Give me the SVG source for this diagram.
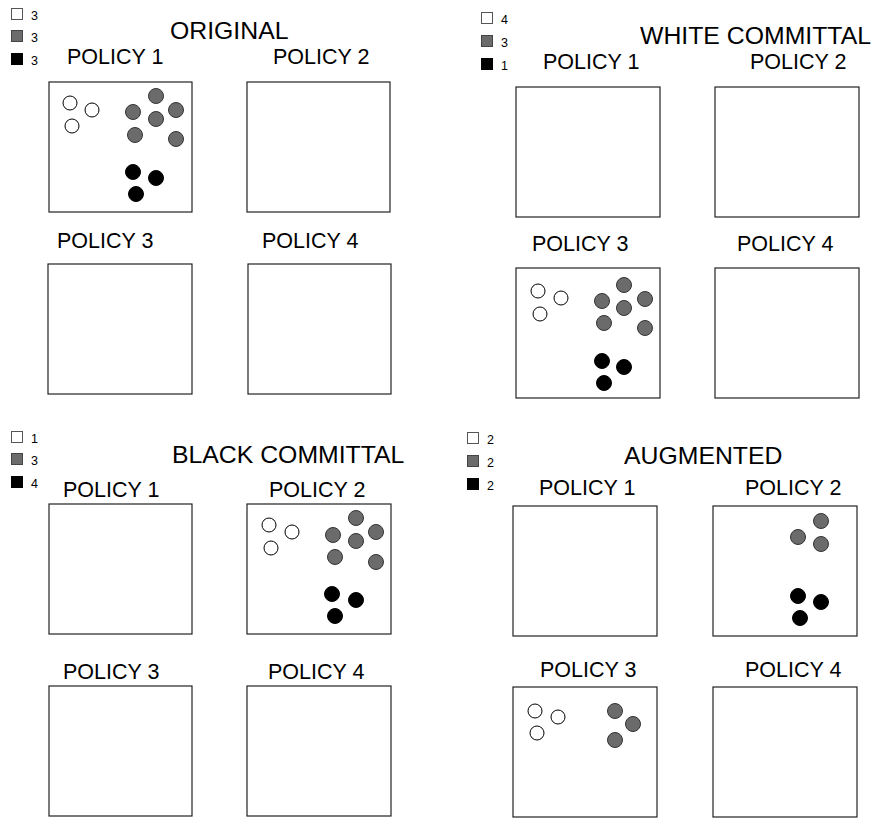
<svg xmlns="http://www.w3.org/2000/svg" width="880" height="818" viewBox="0 0 880 818">
<style>
text{font-family:"Liberation Sans",Arial,Helvetica,sans-serif;fill:#000}
.title{font-size:24.8px}
.lbl{font-size:21.5px}
.leg{font-size:12.5px}
.box{fill:#fff;stroke:#222;stroke-width:1.2}
.w{fill:#fff;stroke:#000;stroke-width:1}
.g{fill:#6b6b6b;stroke:#333;stroke-width:1}
.b{fill:#000;stroke:#000;stroke-width:1}
.sw{fill:#fff;stroke:#555;stroke-width:1}
.sg{fill:#6b6b6b;stroke:#444;stroke-width:1}
.sb{fill:#000;stroke:#000;stroke-width:1}
</style>
<rect width="880" height="818" fill="#fff"/>

<!-- ORIGINAL -->
<g id="original">
  <g id="original-legend">
    <rect class="sw" x="11.5" y="8.5" width="11" height="11"/><text class="leg" x="31" y="20">3</text>
    <rect class="sg" x="11.5" y="30.5" width="11" height="11"/><text class="leg" x="31" y="42">3</text>
    <rect class="sb" x="11.5" y="53.5" width="11" height="11"/><text class="leg" x="31" y="65">3</text>
  </g>
  <text class="title" x="170" y="39">ORIGINAL</text>
  <g id="original-p1">
    <text class="lbl" x="67" y="64">POLICY 1</text>
    <rect class="box" x="49" y="82" width="143" height="130"/>
    <circle class="w" cx="70" cy="103" r="7"/><circle class="w" cx="92" cy="110" r="7"/><circle class="w" cx="72" cy="126" r="7"/>
    <circle class="g" cx="156" cy="96" r="7.5"/><circle class="g" cx="133" cy="112" r="7.5"/><circle class="g" cx="176" cy="110" r="7.5"/>
    <circle class="g" cx="156" cy="119" r="7.5"/><circle class="g" cx="135" cy="135" r="7.5"/><circle class="g" cx="176" cy="139" r="7.5"/>
    <circle class="b" cx="133" cy="172" r="7.5"/><circle class="b" cx="156" cy="178" r="7.5"/><circle class="b" cx="136" cy="194" r="7.5"/>
  </g>
  <g id="original-p2">
    <text class="lbl" x="273" y="64">POLICY 2</text>
    <rect class="box" x="247" y="82" width="143" height="130"/>
  </g>
  <g id="original-p3">
    <text class="lbl" x="57" y="248">POLICY 3</text>
    <rect class="box" x="48" y="264" width="144" height="130"/>
  </g>
  <g id="original-p4">
    <text class="lbl" x="262" y="248">POLICY 4</text>
    <rect class="box" x="248" y="264" width="143" height="130"/>
  </g>
</g>

<!-- WHITE COMMITTAL -->
<g id="white">
  <g id="white-legend">
    <rect class="sw" x="481.5" y="12.5" width="11" height="11"/><text class="leg" x="501" y="24">4</text>
    <rect class="sg" x="481.5" y="35.5" width="11" height="11"/><text class="leg" x="501" y="47">3</text>
    <rect class="sb" x="481.5" y="58.5" width="11" height="11"/><text class="leg" x="501" y="70">1</text>
  </g>
  <text class="title" x="640" y="44">WHITE COMMITTAL</text>
  <g id="white-p1">
    <text class="lbl" x="543" y="69">POLICY 1</text>
    <rect class="box" x="516" y="87" width="144" height="130"/>
  </g>
  <g id="white-p2">
    <text class="lbl" x="750" y="69">POLICY 2</text>
    <rect class="box" x="715" y="87" width="144" height="130"/>
  </g>
  <g id="white-p3">
    <text class="lbl" x="532" y="251">POLICY 3</text>
    <rect class="box" x="516" y="268" width="144" height="130"/>
    <circle class="w" cx="538" cy="291" r="7"/><circle class="w" cx="561" cy="298" r="7"/><circle class="w" cx="540" cy="314" r="7"/>
    <circle class="g" cx="624" cy="285" r="7.5"/><circle class="g" cx="602" cy="301" r="7.5"/><circle class="g" cx="645" cy="299" r="7.5"/>
    <circle class="g" cx="624" cy="308" r="7.5"/><circle class="g" cx="604" cy="323" r="7.5"/><circle class="g" cx="645" cy="328" r="7.5"/>
    <circle class="b" cx="602" cy="361" r="7.5"/><circle class="b" cx="624" cy="367" r="7.5"/><circle class="b" cx="604" cy="383" r="7.5"/>
  </g>
  <g id="white-p4">
    <text class="lbl" x="737" y="251">POLICY 4</text>
    <rect class="box" x="715" y="268" width="144" height="130"/>
  </g>
</g>

<!-- BLACK COMMITTAL -->
<g id="black">
  <g id="black-legend">
    <rect class="sw" x="11.5" y="431.5" width="11" height="11"/><text class="leg" x="31" y="443">1</text>
    <rect class="sg" x="11.5" y="453.5" width="11" height="11"/><text class="leg" x="31" y="465">3</text>
    <rect class="sb" x="11.5" y="476.5" width="11" height="11"/><text class="leg" x="31" y="488">4</text>
  </g>
  <text class="title" x="172" y="463">BLACK COMMITTAL</text>
  <g id="black-p1">
    <text class="lbl" x="63" y="497">POLICY 1</text>
    <rect class="box" x="49" y="504" width="143" height="130"/>
  </g>
  <g id="black-p2">
    <text class="lbl" x="269" y="497">POLICY 2</text>
    <rect class="box" x="247" y="504" width="144" height="130"/>
    <circle class="w" cx="269" cy="525" r="7"/><circle class="w" cx="292" cy="532" r="7"/><circle class="w" cx="271" cy="548" r="7"/>
    <circle class="g" cx="356" cy="518" r="7.5"/><circle class="g" cx="333" cy="535" r="7.5"/><circle class="g" cx="376" cy="532" r="7.5"/>
    <circle class="g" cx="356" cy="541" r="7.5"/><circle class="g" cx="335" cy="557" r="7.5"/><circle class="g" cx="376" cy="562" r="7.5"/>
    <circle class="b" cx="332" cy="594" r="7.5"/><circle class="b" cx="356" cy="600" r="7.5"/><circle class="b" cx="335" cy="616" r="7.5"/>
  </g>
  <g id="black-p3">
    <text class="lbl" x="63" y="679">POLICY 3</text>
    <rect class="box" x="49" y="686" width="143" height="130"/>
  </g>
  <g id="black-p4">
    <text class="lbl" x="268" y="679">POLICY 4</text>
    <rect class="box" x="247" y="686" width="144" height="130"/>
  </g>
</g>

<!-- AUGMENTED -->
<g id="augmented">
  <g id="augmented-legend">
    <rect class="sw" x="467.5" y="432.5" width="11" height="11"/><text class="leg" x="487" y="444">2</text>
    <rect class="sg" x="467.5" y="455.5" width="11" height="11"/><text class="leg" x="487" y="467">2</text>
    <rect class="sb" x="467.5" y="478.5" width="11" height="11"/><text class="leg" x="487" y="490">2</text>
  </g>
  <text class="title" x="624" y="464">AUGMENTED</text>
  <g id="augmented-p1">
    <text class="lbl" x="539" y="495">POLICY 1</text>
    <rect class="box" x="513" y="506" width="144" height="130"/>
  </g>
  <g id="augmented-p2">
    <text class="lbl" x="745" y="495">POLICY 2</text>
    <rect class="box" x="713" y="506" width="144" height="130"/>
    <circle class="g" cx="821" cy="521" r="7.5"/><circle class="g" cx="798" cy="537" r="7.5"/><circle class="g" cx="821" cy="544" r="7.5"/>
    <circle class="b" cx="798" cy="596" r="7.5"/><circle class="b" cx="821" cy="602" r="7.5"/><circle class="b" cx="800" cy="618" r="7.5"/>
  </g>
  <g id="augmented-p3">
    <text class="lbl" x="540" y="677">POLICY 3</text>
    <rect class="box" x="513" y="687" width="144" height="130"/>
    <circle class="w" cx="535" cy="711" r="7"/><circle class="w" cx="558" cy="717" r="7"/><circle class="w" cx="537" cy="733" r="7"/>
    <circle class="g" cx="615" cy="711" r="7.5"/><circle class="g" cx="633" cy="724" r="7.5"/><circle class="g" cx="615" cy="740" r="7.5"/>
  </g>
  <g id="augmented-p4">
    <text class="lbl" x="745" y="677">POLICY 4</text>
    <rect class="box" x="713" y="687" width="144" height="130"/>
  </g>
</g>
</svg>
